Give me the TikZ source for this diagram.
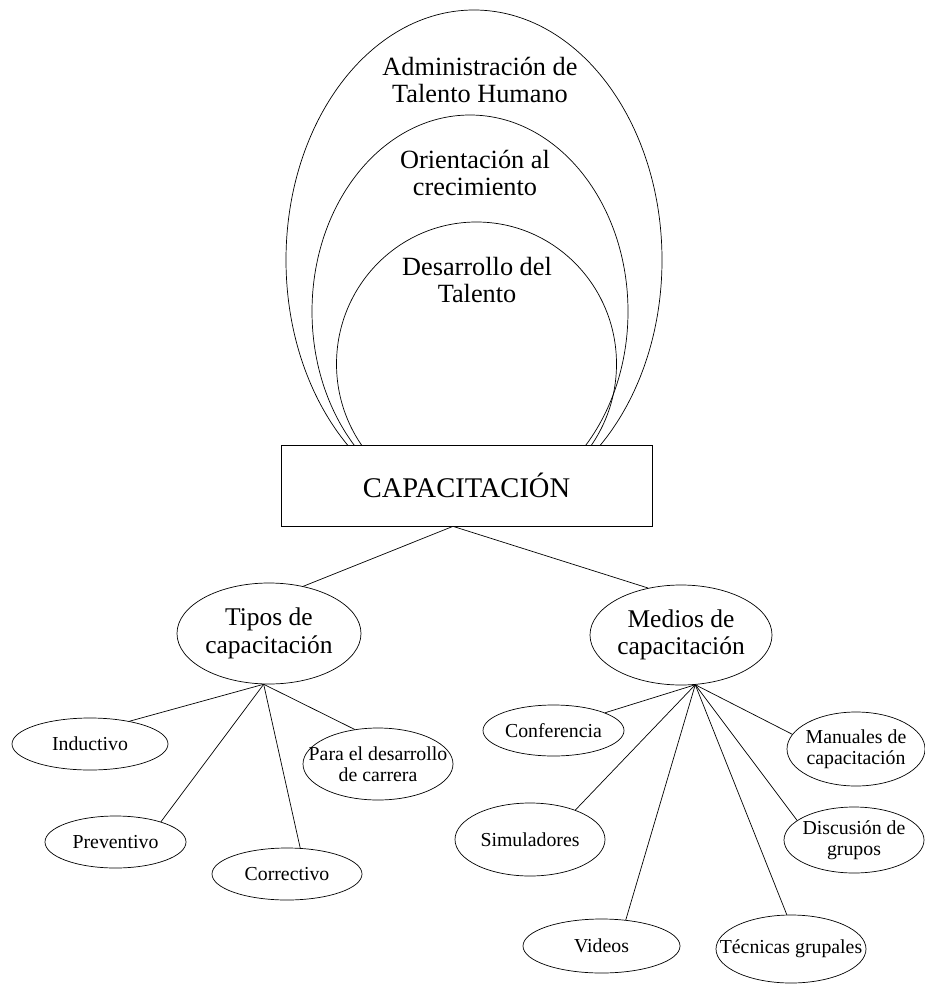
\documentclass[tikz,border=0pt]{standalone}
\usepackage{fontspec}
\setmainfont{Liberation Serif}
\usetikzlibrary{shapes.geometric}
\begin{document}
\begin{tikzpicture}[x=1pt,y=-1pt,line width=0.7pt,
  ell/.style={draw, ellipse, inner sep=0pt},
  small/.style={font=\fontsize{19.8}{20.5}\selectfont, align=center, inner sep=0pt},
  mid/.style={font=\fontsize{25.5}{27.5}\selectfont, align=center, inner sep=0pt},
  big/.style={font=\fontsize{26.3}{27}\selectfont, align=center}]
\useasboundingbox (0,0) rectangle (925,984);
% nested arcs
\node[ell, minimum width=376pt, minimum height=500pt] (outer) at (474,260) {};
\node[ell, minimum width=316pt, minimum height=393pt] (middle) at (470,311.5) {};
\node[ell, minimum width=280pt, minimum height=284pt] (inner) at (476.5,364) {};
\node[big] (tadm) at (480,80) {Administración de\\Talento Humano};
\node[big] (tori) at (475,173) {Orientación al\\crecimiento};
\node[big] (tdes) at (477,280) {Desarrollo del\\Talento};
% central box
\node[draw, fill=white, minimum width=371pt, minimum height=81pt, inner sep=0pt,
      font=\fontsize{28.5}{30}\selectfont] (cap) at (466.5,485.5) {CAPACITACIÓN};
\coordinate (cs) at ([xshift=-13.5pt]cap.south);
% second level
\node[ell, minimum width=184pt, minimum height=101pt] (tipos) at (269,633.5) {};
\node[mid] (tipos-t) at (tipos) {Tipos de\\capacitación};
\node[ell, minimum width=182pt, minimum height=100pt] (medios) at (681,635) {};
\node[mid] (medios-t) at (medios) {Medios de\\capacitación};
\draw (cs) -- (tipos.54);
\draw (cs) -- (medios.125);
\coordinate (th) at (tipos.-96);
\coordinate (mh) at (medios.-74);
% Tipos children
\node[ell, minimum width=156pt, minimum height=52pt] (ind) at (90,744) {};
\node[small] (ind-t) at (ind) {Inductivo};
\node[ell, minimum width=141pt, minimum height=52pt] (pre) at (115.5,842) {};
\node[small] (pre-t) at (pre) {Preventivo};
\node[ell, minimum width=150pt, minimum height=52pt] (cor) at (287,874) {};
\node[small] (cor-t) at (cor) {Correctivo};
\node[ell, minimum width=150pt, minimum height=72pt] (par) at (378,764) {};
\node[small] (par-t) at (par) {Para el desarrollo\\de carrera};
\draw (th) -- (ind.30);
\draw (th) -- (pre.24);
\draw (th) -- (cor.63);
\draw (th) -- (par.124);
% Medios children
\node[ell, minimum width=141pt, minimum height=51pt] (con) at (553.5,730.5) {};
\node[small] (con-t) at (con) {Conferencia};
\node[ell, minimum width=138pt, minimum height=74pt] (man) at (856,749) {};
\node[small] (man-t) at (man) {Manuales de\\capacitación};
\node[ell, minimum width=150pt, minimum height=73pt] (sim) at (530,839.5) {};
\node[small] (sim-t) at (sim) {Simuladores};
\node[ell, minimum width=140pt, minimum height=66pt] (dis) at (854,840) {};
\node[small] (dis-t) at (dis) {Discusión de\\grupos};
\node[ell, minimum width=157pt, minimum height=54pt] (vid) at (601.5,946) {};
\node[small] (vid-t) at (vid) {Videos};
\node[ell, minimum width=150pt, minimum height=68pt] (tec) at (791,949) {};
\node[small] (tec-t) at (tec) {Técnicas grupales};
\draw (mh) -- (con.19);
\draw (mh) -- (man.167);
\draw (mh) -- (sim.33);
\draw (mh) -- (dis.161);
\draw (mh) -- (vid.47);
\draw (mh) -- (tec.97);
\end{tikzpicture}
\end{document}
